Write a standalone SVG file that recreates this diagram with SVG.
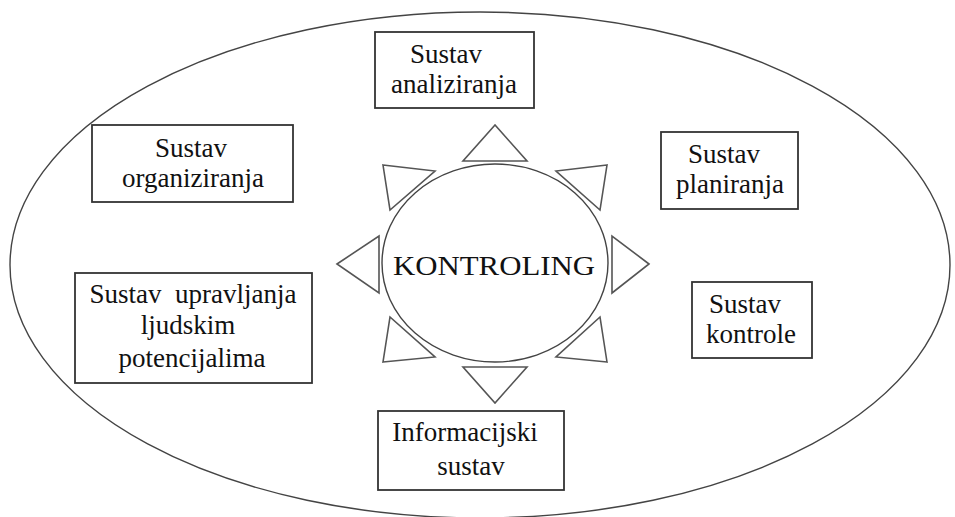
<svg xmlns="http://www.w3.org/2000/svg" width="955" height="517" viewBox="0 0 955 517">
<style>
.box{fill:#fff;stroke:#333;stroke-width:1.8}
.tri{fill:#fff;stroke:#555;stroke-width:1.6;stroke-linejoin:miter}
.ell{fill:none;stroke:#444;stroke-width:1.4}
.t{font-family:'Liberation Serif','Times New Roman',Times,serif;font-size:27px;fill:#111;text-anchor:middle}
</style>
<rect width="955" height="517" fill="#fff"/>
<ellipse id="outer" class="ell" cx="480" cy="265" rx="470" ry="253"/>
<g id="connectors">
<polygon class="tri" points="495,125 463,161 527,161"/>
<polygon class="tri" points="463,367 527,367 495,403"/>
<polygon class="tri" points="337,264 379,236 379,293"/>
<polygon class="tri" points="649,264 612,236 612,293"/>
<polygon class="tri" points="383,165 435,171 390,210"/>
<polygon class="tri" points="607,165 556,171 600,210"/>
<polygon class="tri" points="383,362 435,357 390,317"/>
<polygon class="tri" points="607,362 556,357 600,317"/>
</g>
<g id="kontroling">
<ellipse class="ell" cx="495" cy="263" rx="113" ry="99"/>
<text class="t" x="494" y="275" font-size="28" textLength="202" lengthAdjust="spacingAndGlyphs">KONTROLING</text>
</g>
<g id="analiziranja">
<rect class="box" x="375" y="32" width="159" height="76"/>
<text class="t" x="446" y="63">Sustav</text>
<text class="t" x="454" y="93">analiziranja</text>
</g>
<g id="organiziranja">
<rect class="box" x="92" y="125" width="201" height="77"/>
<text class="t" x="191" y="157">Sustav</text>
<text class="t" x="193" y="187">organiziranja</text>
</g>
<g id="planiranja">
<rect class="box" x="661" y="132" width="137" height="77"/>
<text class="t" x="724" y="163">Sustav</text>
<text class="t" x="730" y="193">planiranja</text>
</g>
<g id="kontrole">
<rect class="box" x="692" y="282" width="120" height="76"/>
<text class="t" x="745" y="313">Sustav</text>
<text class="t" x="751" y="343">kontrole</text>
</g>
<g id="upravljanja">
<rect class="box" x="75" y="273" width="237" height="110"/>
<text class="t" x="193" y="303" xml:space="preserve">Sustav  upravljanja</text>
<text class="t" x="188" y="334">ljudskim</text>
<text class="t" x="192" y="367">potencijalima</text>
</g>
<g id="informacijski">
<rect class="box" x="378" y="411" width="186" height="79"/>
<text class="t" x="465" y="441">Informacijski</text>
<text class="t" x="471" y="475">sustav</text>
</g>
</svg>
